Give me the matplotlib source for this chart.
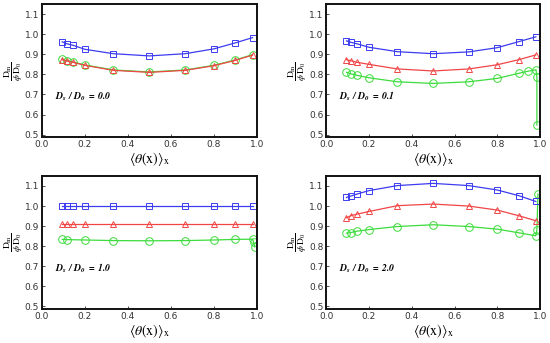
import matplotlib
matplotlib.use("Agg")
import matplotlib.pyplot as plt

plt.rcParams['mathtext.fontset'] = 'stix'
plt.rcParams['font.family'] = ['DejaVu Sans']

# common theta values
theta = [0.095, 0.115, 0.145, 0.2, 0.333, 0.5, 0.667, 0.8, 0.9, 0.98]

ratios = ["0.0", "0.1", "1.0", "2.0"]

blue = [
    [0.962, 0.953, 0.945, 0.925, 0.903, 0.892, 0.903, 0.927, 0.957, 0.983],
    [0.967, 0.960, 0.952, 0.935, 0.913, 0.903, 0.912, 0.933, 0.963, 0.987],
    [1.000, 1.000, 1.000, 1.000, 1.000, 1.000, 1.000, 1.000, 1.000, 1.000],
    [1.043, 1.050, 1.060, 1.077, 1.102, 1.113, 1.102, 1.080, 1.052, 1.023],
]
red = [
    [0.873, 0.867, 0.860, 0.845, 0.820, 0.810, 0.820, 0.843, 0.870, 0.896],
    [0.873, 0.868, 0.860, 0.850, 0.827, 0.817, 0.827, 0.848, 0.873, 0.897],
    [0.912, 0.912, 0.912, 0.912, 0.912, 0.912, 0.912, 0.912, 0.912, 0.912],
    [0.942, 0.952, 0.960, 0.973, 1.002, 1.010, 1.000, 0.980, 0.952, 0.927],
]
green_x = [
    [0.095, 0.115, 0.145, 0.2, 0.333, 0.5, 0.667, 0.8, 0.9, 0.98],
    [0.095, 0.115, 0.145, 0.2, 0.333, 0.5, 0.667, 0.8, 0.903, 0.945, 0.981, 0.985, 0.985],
    [0.095, 0.115, 0.2, 0.333, 0.5, 0.667, 0.8, 0.9, 0.98, 0.985, 0.99],
    [0.095, 0.115, 0.145, 0.2, 0.333, 0.5, 0.667, 0.8, 0.9, 0.98, 0.985, 0.99],
]
green_y = [
    [0.875, 0.869, 0.862, 0.847, 0.822, 0.812, 0.822, 0.845, 0.872, 0.898],
    [0.810, 0.803, 0.795, 0.783, 0.763, 0.755, 0.763, 0.780, 0.806, 0.816, 0.823, 0.786, 0.548],
    [0.834, 0.833, 0.831, 0.828, 0.827, 0.828, 0.831, 0.834, 0.835, 0.820, 0.797],
    [0.865, 0.868, 0.875, 0.883, 0.898, 0.907, 0.898, 0.885, 0.867, 0.852, 0.880, 1.060],
]

xticks = [0.0, 0.2, 0.4, 0.6, 0.8, 1.0]
yticks = [0.5, 0.6, 0.7, 0.8, 0.9, 1.0, 1.1]

c_blue = '#3c3cf0'
c_red = '#f04646'
c_green = '#3cdc3c'

fig = plt.figure(figsize=(5.5, 3.43), dpi=100)
rects = [
    [0.076, 0.600, 0.391, 0.388],
    [0.593, 0.600, 0.389, 0.388],
    [0.076, 0.099, 0.391, 0.388],
    [0.593, 0.099, 0.389, 0.388],
]

for i in range(4):
    ax = fig.add_axes(rects[i])
    ax.plot(green_x[i], green_y[i], color=c_green, lw=0.9, marker='o', ms=5.5,
            mfc='none', mec=c_green, mew=0.7)
    ax.plot(theta, red[i], color=c_red, lw=0.9, marker='^', ms=4.5,
            mfc='none', mec=c_red, mew=0.7)
    ax.plot(theta, blue[i], color=c_blue, lw=0.9, marker='s', ms=4,
            mfc='none', mec=c_blue, mew=0.7)
    ax.set_xlim(0.0, 1.0)
    ax.set_ylim(0.487, 1.15)
    ax.set_xticks(xticks)
    ax.set_yticks(yticks)
    ax.set_xticklabels(["%.1f" % v for v in xticks])
    ax.set_yticklabels(["%.1f" % v for v in yticks])
    ax.tick_params(direction='in', length=2.5, width=0.6, labelsize=6.5, pad=2,
                   colors='#333333', labelcolor='#333333')
    for s in ax.spines.values():
        s.set_linewidth(1.4)
        s.set_color('#111111')
    ax.set_xlabel(r'$\langle\theta(\mathrm{x})\rangle_\mathrm{x}$', fontsize=10, labelpad=1)
    ax.set_ylabel(r'$\dfrac{\mathrm{D_m}}{\phi\,\mathrm{D_0}}$', fontsize=6.8, rotation=90)
    ax.yaxis.set_label_coords(-0.078, 0.5)
    ax.text(0.06, 0.675, r'$\mathbfit{D_s\ /\ D_0\ =\ %s}$' % ratios[i], fontsize=7,
            transform=ax.transData)

fig.savefig("out.png", dpi=100)
